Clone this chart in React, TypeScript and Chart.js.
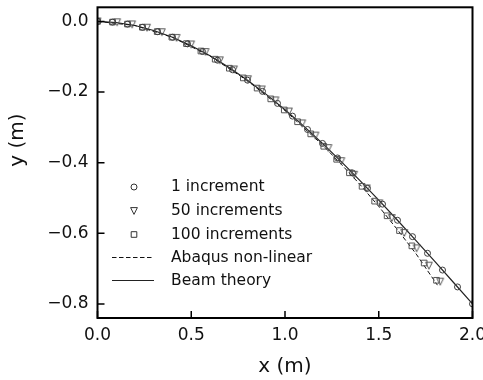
import { useEffect, useRef } from 'react';
import { Chart, registerables } from 'chart.js';

Chart.register(...registerables);

// ---- data ----
const beamX = [0, 0.1, 0.2, 0.3, 0.4, 0.5, 0.6, 0.7, 0.8, 0.9, 1.0, 1.1, 1.2, 1.3, 1.4, 1.5, 1.6, 1.7, 1.8, 1.9, 2.0];
const beamY = [0, -0.003, -0.0116, -0.0257, -0.0448, -0.0688, -0.0972, -0.1299, -0.1664, -0.2066, -0.25, -0.2965, -0.3456, -0.3972, -0.4508, -0.5063, -0.5632, -0.6214, -0.6804, -0.7401, -0.8];

const abaqusX = [0, 0.2, 0.4, 0.6, 0.8, 1.0, 1.2, 1.3, 1.4, 1.5, 1.6, 1.7, 1.813];
const abaqusY = [0, -0.0116, -0.0452, -0.098, -0.168, -0.2525, -0.35, -0.4045, -0.462, -0.524, -0.59, -0.659, -0.747];

const inc1X = [0, 0.08, 0.16, 0.24, 0.32, 0.4, 0.48, 0.56, 0.64, 0.72, 0.8, 0.88, 0.96, 1.04, 1.12, 1.2, 1.28, 1.36, 1.44, 1.52, 1.6, 1.68, 1.76, 1.84, 1.92, 2.0];
const inc1Y = [0, -0.0019, -0.0075, -0.0166, -0.0291, -0.0448, -0.0636, -0.0853, -0.1098, -0.1369, -0.1664, -0.1982, -0.2322, -0.2682, -0.3061, -0.3456, -0.3867, -0.4291, -0.4728, -0.5175, -0.5632, -0.6096, -0.6567, -0.7042, -0.752, -0.8];

const inc50X = [0, 0.105, 0.1848, 0.2642, 0.3433, 0.4217, 0.4995, 0.5766, 0.6528, 0.7282, 0.8028, 0.8764, 0.9492, 1.0211, 1.0921, 1.1624, 1.2318, 1.3006, 1.3687, 1.4361, 1.5031, 1.5696, 1.6358, 1.7017, 1.7674, 1.828];
const inc50Y = [0, -0.0024, -0.0084, -0.0179, -0.0306, -0.0467, -0.0653, -0.0867, -0.1102, -0.136, -0.1638, -0.1928, -0.2237, -0.2553, -0.2889, -0.3234, -0.3587, -0.3958, -0.4343, -0.4729, -0.5152, -0.5569, -0.5991, -0.6428, -0.6917, -0.737];

const inc100X = [0, 0.08, 0.1598, 0.2392, 0.3183, 0.3967, 0.4745, 0.5516, 0.6278, 0.7032, 0.7778, 0.8514, 0.9242, 0.9961, 1.0671, 1.1374, 1.2068, 1.2756, 1.3437, 1.4111, 1.4781, 1.5446, 1.6108, 1.6767, 1.7424, 1.808];
const inc100Y = [0, -0.0019, -0.0075, -0.0165, -0.0288, -0.0446, -0.0628, -0.0838, -0.107, -0.1325, -0.16, -0.1888, -0.2194, -0.2508, -0.2842, -0.3185, -0.3536, -0.3905, -0.4287, -0.467, -0.509, -0.5505, -0.5924, -0.6357, -0.6843, -0.7332];

const xTicks = [0, 0.5, 1.0, 1.5, 2.0];
const yTicks = [0, -0.2, -0.4, -0.6, -0.8];
const seriesLabels = ['1 increment', '50 increments', '100 increments', 'Abaqus non-linear', 'Beam theory'];
const xTitle = 'x (m)';
const yTitle = 'y (m)';

const FONT = "'DejaVu Sans', sans-serif";
const pts = (xs: number[], ys: number[]) => xs.map((x, i) => ({ x, y: ys[i] }));

const fmtY = (v: number) => (Math.abs(v) < 1e-9 ? '0.0' : (v < 0 ? '\u2212' : '') + Math.abs(v).toFixed(1));

function triPath(ctx: CanvasRenderingContext2D, cx: number, cy: number, h: number) {
  ctx.moveTo(cx - h, cy - h);
  ctx.lineTo(cx + h, cy - h);
  ctx.lineTo(cx, cy + h);
  ctx.closePath();
}

function makeTriangleCanvas(color: string) {
  const c = document.createElement('canvas');
  c.width = 10;
  c.height = 10;
  const g = c.getContext('2d')!;
  g.strokeStyle = color;
  g.lineWidth = 1;
  g.beginPath();
  triPath(g, 5, 5, 3.4);
  g.stroke();
  return c;
}

function drawMarker(ctx: CanvasRenderingContext2D, kind: string, x: number, y: number, color: string) {
  ctx.save();
  ctx.strokeStyle = color;
  ctx.lineWidth = 1;
  ctx.beginPath();
  if (kind === 'circle') {
    ctx.arc(x, y, 3, 0, Math.PI * 2);
  } else if (kind === 'tri') {
    triPath(ctx, x, y, 3.4);
  } else {
    const s = 2.8;
    ctx.rect(x - s, y - s, 2 * s, 2 * s);
  }
  ctx.stroke();
  ctx.restore();
}

const decorPlugin = {
  id: 'decor',
  afterDatasetsDraw(chart: any) {
    const { ctx, chartArea: a, scales } = chart;
    ctx.save();
    ctx.strokeStyle = '#000';
    ctx.lineWidth = 1.5;
    ctx.beginPath();
    for (const v of xTicks) {
      const px = scales.x.getPixelForValue(v);
      ctx.moveTo(px, a.bottom);
      ctx.lineTo(px, a.bottom - 7);
    }
    for (const v of yTicks) {
      const py = scales.y.getPixelForValue(v);
      ctx.moveTo(a.left, py);
      ctx.lineTo(a.left + 7, py);
    }
    ctx.stroke();
    ctx.lineWidth = 2;
    ctx.strokeRect(a.left, a.top, a.right - a.left, a.bottom - a.top);
    ctx.restore();
  },
  afterDraw(chart: any) {
    const { ctx, chartArea: a } = chart;
    ctx.save();
    ctx.fillStyle = '#111';
    ctx.font = `20px ${FONT}`;
    ctx.textAlign = 'center';
    ctx.textBaseline = 'middle';
    ctx.fillText(xTitle, (a.left + a.right) / 2, 367);
    ctx.save();
    ctx.translate(17.5, 140);
    ctx.rotate(-Math.PI / 2);
    ctx.fillText(yTitle, 0, 0);
    ctx.restore();

    const rows = [187, 211, 234.5, 257.5, 280.5];
    const hx0 = 112, hx1 = 154, mx = 134, tx = 171;
    ctx.font = `15.5px ${FONT}`;
    ctx.textAlign = 'left';
    ctx.textBaseline = 'middle';
    drawMarker(ctx, 'circle', mx, rows[0], '#333');
    drawMarker(ctx, 'tri', mx, rows[1], '#333');
    drawMarker(ctx, 'rect', mx, rows[2], '#333');
    ctx.strokeStyle = '#111';
    ctx.lineWidth = 1;
    ctx.setLineDash([4.5, 2.5]);
    ctx.beginPath();
    ctx.moveTo(hx0, rows[3]);
    ctx.lineTo(hx1, rows[3]);
    ctx.stroke();
    ctx.setLineDash([]);
    ctx.strokeStyle = '#222';
    ctx.lineWidth = 1.2;
    ctx.beginPath();
    ctx.moveTo(hx0, rows[4]);
    ctx.lineTo(hx1, rows[4]);
    ctx.stroke();
    ctx.fillStyle = '#111';
    seriesLabels.forEach((t, i) => ctx.fillText(t, tx, rows[i]));
    ctx.restore();
  },
};

export default function App() {
  const ref = useRef<HTMLCanvasElement | null>(null);
  useEffect(() => {
    if (!ref.current) return;
    const transparent = 'rgba(0,0,0,0)';
    const triImg = makeTriangleCanvas('#555');
    const chart = new Chart(ref.current, {
      type: 'scatter',
      data: {
        datasets: [
          {
            label: seriesLabels[0],
            data: pts(inc1X, inc1Y),
            pointStyle: 'circle',
            pointRadius: 3,
            pointBorderWidth: 1,
            borderColor: '#3a3a3a',
            backgroundColor: transparent,
            clip: 0,
          },
          {
            label: seriesLabels[1],
            data: pts(inc50X, inc50Y),
            pointStyle: triImg,
            pointRadius: 4,
            pointBorderWidth: 1,
            borderColor: '#555',
            backgroundColor: transparent,
            clip: 0,
          },
          {
            label: seriesLabels[2],
            data: pts(inc100X, inc100Y),
            pointStyle: 'rect',
            pointRadius: 4,
            pointBorderWidth: 1,
            borderColor: '#555',
            backgroundColor: transparent,
            clip: 0,
          },
          {
            label: seriesLabels[3],
            data: pts(abaqusX, abaqusY),
            showLine: true,
            borderDash: [4.5, 2.5],
            borderWidth: 1,
            borderColor: '#111',
            pointRadius: 0,
            backgroundColor: transparent,
            clip: 0,
          },
          {
            label: seriesLabels[4],
            data: pts(beamX, beamY),
            showLine: true,
            borderWidth: 1.2,
            borderColor: '#222',
            pointRadius: 0,
            backgroundColor: transparent,
            clip: 0,
          },
        ] as any,
      },
      options: {
        animation: false,
        responsive: false,
        events: [],
        layout: { padding: { left: 0, right: 10.5, top: 7.3, bottom: 0 } },
        plugins: { legend: { display: false }, tooltip: { enabled: false } },
        scales: {
          x: {
            type: 'linear',
            min: 0,
            max: 2,
            grid: { display: false, drawTicks: false },
            border: { display: false },
            ticks: {
              padding: 7,
              color: '#111',
              font: { family: FONT, size: 17 },
              callback: (v: any) => Number(v).toFixed(1),
            },
            afterBuildTicks: (s: any) => {
              s.ticks = xTicks.map((value) => ({ value }));
            },
            afterFit: (s: any) => {
              s.height = 62;
              s.paddingLeft = 0;
              s.paddingRight = 0;
            },
          },
          y: {
            type: 'linear',
            min: -0.84,
            max: 0.04,
            grid: { display: false, drawTicks: false },
            border: { display: false },
            ticks: {
              padding: 9,
              color: '#111',
              font: { family: FONT, size: 17 },
              callback: (v: any) => fmtY(Number(v)),
            },
            afterBuildTicks: (s: any) => {
              s.ticks = yTicks.map((value) => ({ value }));
            },
            afterFit: (s: any) => {
              s.width = 97.5;
              s.paddingTop = 0;
              s.paddingBottom = 0;
            },
          },
        },
      } as any,
      plugins: [decorPlugin],
    });
    return () => chart.destroy();
  }, []);

  return (
    <div style={{ position: 'fixed', left: 0, top: 0, width: 483, height: 380, background: '#fff' }}>
      <canvas ref={ref} width={483} height={380} style={{ display: 'block' }} />
    </div>
  );
}
